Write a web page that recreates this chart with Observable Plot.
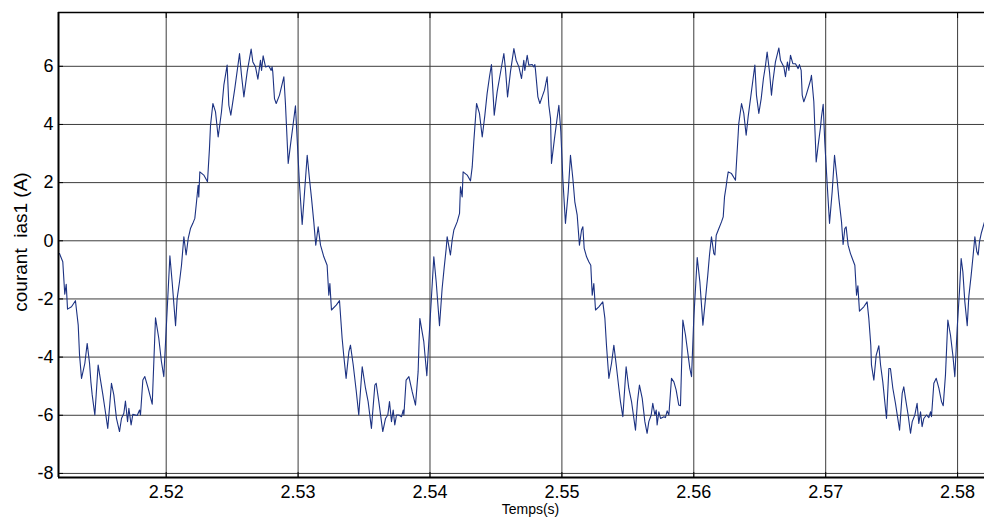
<!DOCTYPE html>
<html>
<head>
<meta charset="utf-8">
<script src="https://cdn.jsdelivr.net/npm/d3@7"></script>
<script src="https://cdn.jsdelivr.net/npm/@observablehq/plot@0.6"></script>
<style>
  html, body { margin: 0; padding: 0; background: #fff; }
  #chart svg { display: block; }
  #chart svg text { white-space: pre; }
</style>
</head>
<body>
<div id="chart"></div>
<script>
// Time (s)
const time = [
  2.51191, 2.51216, 2.51231, 2.51242, 2.51252, 2.51282, 2.51312, 2.51333, 2.51343, 2.51358,
  2.51383, 2.51401, 2.51419, 2.51429, 2.51439, 2.51459, 2.51484, 2.51502, 2.51520, 2.51535,
  2.51557, 2.51573, 2.51585, 2.51603, 2.51623, 2.51646, 2.51661, 2.51679, 2.51691, 2.51707,
  2.51717, 2.51734, 2.51747, 2.51780, 2.51798, 2.51805, 2.51823, 2.51838, 2.51863, 2.51894,
  2.51919, 2.51944, 2.51964, 2.51982, 2.52028, 2.52045, 2.52071, 2.52083, 2.52101, 2.52116,
  2.52134, 2.52151, 2.52167, 2.52184, 2.52202, 2.52217, 2.52230, 2.52242, 2.52247, 2.52255,
  2.52285, 2.52313, 2.52328,
  2.52336, 2.52354, 2.52374, 2.52394, 2.52419, 2.52437, 2.52462,
  2.52475, 2.52490, 2.52520, 2.52556, 2.52571, 2.52589, 2.52614, 2.52644, 2.52657, 2.52677,
  2.52695, 2.52715, 2.52723, 2.52735, 2.52753, 2.52778, 2.52796, 2.52803, 2.52808, 2.52821,
  2.52834, 2.52859, 2.52892, 2.52904, 2.52925, 2.52942, 2.52960, 2.52980, 2.53011, 2.53031,
  2.53049, 2.53069, 2.53086, 2.53102, 2.53119, 2.53134, 2.53152, 2.53170, 2.53195, 2.53220,
  2.53233, 2.53241, 2.53253, 2.53289, 2.53314, 2.53334, 2.53347, 2.53364, 2.53385, 2.53397,
  2.53418, 2.53440, 2.53460,
  2.53486, 2.53511, 2.53531, 2.53556, 2.53582, 2.53592, 2.53612,
  2.53642, 2.53663, 2.53680, 2.53693, 2.53708, 2.53721, 2.53733, 2.53746, 2.53764, 2.53784,
  2.53797, 2.53802, 2.53819, 2.53840, 2.53865, 2.53890, 2.53910, 2.53923, 2.53953, 2.53976,
  2.54029, 2.54047, 2.54072, 2.54092, 2.54107, 2.54123, 2.54130, 2.54155, 2.54168, 2.54181,
  2.54206, 2.54224, 2.54231, 2.54244, 2.54251, 2.54282, 2.54307, 2.54320, 2.54332, 2.54353,
  2.54375, 2.54396, 2.54416, 2.54433, 2.54451, 2.54466, 2.54487, 2.54509, 2.54529, 2.54560,
  2.54572, 2.54588, 2.54610,
  2.54636, 2.54653, 2.54674, 2.54694, 2.54711, 2.54719, 2.54737,
  2.54749, 2.54775, 2.54787, 2.54795, 2.54800, 2.54818, 2.54833, 2.54850, 2.54868, 2.54888,
  2.54901, 2.54914, 2.54921, 2.54944, 2.54962, 2.54977, 2.54992, 2.55007, 2.55027, 2.55048,
  2.55065, 2.55083, 2.55098, 2.55116, 2.55133, 2.55149, 2.55159, 2.55169, 2.55187, 2.55204,
  2.55219, 2.55230, 2.55242, 2.55255, 2.55280, 2.55310, 2.55326, 2.55338, 2.55356, 2.55376,
  2.55394, 2.55412, 2.55432, 2.55444, 2.55462, 2.55487, 2.55507, 2.55528, 2.55558, 2.55573,
  2.55588, 2.55609, 2.55629, 2.55646, 2.55659, 2.55677, 2.55689, 2.55705, 2.55715, 2.55722,
  2.55735, 2.55748,
  2.55773, 2.55785, 2.55798, 2.55811, 2.55831, 2.55849, 2.55866, 2.55886,
  2.55899, 2.55917, 2.55937, 2.55957, 2.55970, 2.55983, 2.56000, 2.56026, 2.56046, 2.56069,
  2.56089, 2.56106, 2.56119, 2.56134, 2.56152, 2.56160, 2.56170, 2.56190, 2.56210, 2.56223,
  2.56233, 2.56245, 2.56253, 2.56261, 2.56286, 2.56316, 2.56324, 2.56336, 2.56341, 2.56362,
  2.56379, 2.56397, 2.56412, 2.56430, 2.56448, 2.56463, 2.56475, 2.56493, 2.56511, 2.56528,
  2.56544, 2.56556, 2.56574, 2.56589, 2.56599, 2.56619, 2.56645, 2.56657, 2.56683, 2.56695,
  2.56710, 2.56721, 2.56733, 2.56751, 2.56771, 2.56791, 2.56801, 2.56814, 2.56822, 2.56834,
  2.56852, 2.56885,
  2.56892, 2.56910, 2.56928, 2.56943, 2.56961, 2.56968, 2.56981, 2.56993,
  2.57011, 2.57029, 2.57049, 2.57067, 2.57087, 2.57100, 2.57120, 2.57132, 2.57145, 2.57155,
  2.57170, 2.57188, 2.57206, 2.57221, 2.57234, 2.57244, 2.57256, 2.57289, 2.57314, 2.57327,
  2.57342, 2.57347, 2.57365, 2.57383, 2.57403, 2.57416, 2.57433, 2.57448, 2.57461, 2.57479,
  2.57491, 2.57509, 2.57529, 2.57560, 2.57580, 2.57592, 2.57605, 2.57625, 2.57643, 2.57656,
  2.57676, 2.57693, 2.57706, 2.57719, 2.57731, 2.57744, 2.57764, 2.57782, 2.57795, 2.57802,
  2.57820, 2.57838, 2.57858, 2.57878, 2.57891, 2.57908, 2.57926, 2.57946, 2.57964, 2.57979,
  2.57997, 2.58014, 2.58027, 2.58040, 2.58055, 2.58073, 2.58085, 2.58103, 2.58118, 2.58131,
  2.58146, 2.58156, 2.58166, 2.58179, 2.58204
];

// Current ias1 (A)
const current = [
  -0.44, -0.72, -1.84, -1.50, -2.35, -2.27, -2.06, -2.90, -3.93, -4.73,
  -4.22, -3.53, -4.22, -4.85, -5.30, -5.99, -4.27, -4.79, -5.30, -5.76,
  -6.45, -5.59, -4.90, -5.30, -6.11, -6.56, -6.11, -5.93, -5.51, -6.22,
  -5.76, -6.33, -5.97, -6.01, -5.82, -5.99, -4.79, -4.67, -5.07, -5.62,
  -2.65, -3.36, -4.16, -4.67, -0.52, -1.41, -2.92, -1.98, -1.41, -0.84,
  0.14, -0.49, 0.08, 0.42, 0.60, 0.77, 1.34, 1.91, 1.51, 2.37,
  2.26, 2.03, 3.17,
  3.97, 4.72, 4.43, 3.57, 4.43, 5.35, 6.04,
  4.66, 4.32, 5.23, 6.44, 5.69, 4.95, 5.81, 6.59, 6.15, 5.98,
  5.56, 6.21, 5.86, 6.36, 5.98, 6.01, 5.86, 5.98, 5.81, 4.89,
  4.72, 5.01, 5.64, 4.72, 2.66, 3.29, 3.92, 4.64, 1.91, 0.56,
  1.68, 2.94, 2.14, 1.45, 0.65, -0.15, 0.48, -0.15, -0.55, -0.84,
  -1.87, -1.47, -2.38, -2.21, -2.06, -3.36, -3.99, -4.73, -3.81, -3.59,
  -4.27, -5.13, -5.99,
  -4.33, -5.07, -5.53, -6.45, -4.96, -4.90, -5.53,
  -6.56, -6.11, -5.99, -5.53, -6.22, -5.82, -6.33, -5.99, -5.99, -6.05,
  -5.82, -5.99, -4.79, -4.67, -5.19, -5.65, -4.50, -2.67, -3.47, -4.64,
  -0.55, -1.41, -2.92, -1.64, -0.95, -0.26, 0.14, -0.49, 0.02, 0.37,
  0.65, 0.94, 1.86, 1.51, 2.37, 2.26, 2.06, 2.54, 3.40, 4.72,
  4.38, 3.57, 4.32, 5.06, 5.64, 6.06, 4.32, 5.12, 5.64, 6.44,
  5.92, 4.95, 5.81,
  6.61, 6.21, 5.98, 5.58, 6.21, 5.86, 6.38,
  6.04, 6.06, 5.98, 6.06, 5.86, 4.95, 4.72, 4.95, 5.18, 5.64,
  4.66, 4.20, 2.66, 3.52, 4.15, 4.66, 3.75, 2.14, 0.60, 1.68,
  2.94, 2.14, 1.34, 0.88, -0.15, 0.37, 0.48, -0.26, -0.55, -0.72,
  -0.84, -1.87, -1.47, -2.38, -2.27, -2.10, -2.67, -3.59, -4.73, -4.22,
  -3.59, -4.27, -5.07, -5.53, -6.05, -4.33, -5.07, -5.53, -6.51, -5.53,
  -4.96, -5.42, -6.22, -6.62, -6.22, -5.99, -5.59, -5.99, -5.82, -6.33,
  -5.88, -6.11,
  -6.05, -6.08, -5.85, -5.99, -4.73, -4.85, -5.13, -5.65,
  -5.67, -2.73, -3.24, -3.93, -4.39, -4.67, -2.67, -0.58, -1.41, -2.90,
  -1.98, -1.18, -0.49, 0.14, -0.44, -0.49, 0.19, 0.42, 0.65, 0.82,
  1.51, 1.86, 2.14, 2.37, 2.31, 2.08, 2.71, 3.63, 4.03, 4.72,
  4.38, 3.63, 4.26, 4.89, 5.52, 6.04, 5.01, 4.38, 4.89, 5.58,
  6.04, 6.49, 5.81, 5.01, 5.46, 6.15, 6.63, 6.21, 5.98, 5.64,
  6.15, 5.86, 6.38, 6.09, 6.09, 5.92, 6.06, 5.86, 5.01, 4.78,
  5.01, 5.52,
  5.69, 4.78, 2.71, 3.29, 3.92, 4.26, 4.69, 3.40,
  1.97, 0.60, 1.68, 2.94, 2.08, 1.45, 0.65, -0.13, 0.42, 0.48,
  -0.15, -0.44, -0.66, -0.84, -1.87, -1.55, -2.42, -2.27, -2.10, -2.67,
  -3.59, -4.27, -4.79, -3.93, -3.61, -4.27, -4.85, -5.53, -6.11, -4.39,
  -4.39, -5.07, -5.59, -6.51, -5.25, -5.02, -5.42, -5.99, -6.62, -6.22,
  -5.99, -5.59, -6.28, -5.88, -6.39, -6.11, -5.99, -6.08, -5.88, -6.05,
  -4.90, -4.73, -5.07, -5.53, -5.67, -4.62, -2.73, -3.24, -3.93, -4.67,
  -3.01, -1.75, -0.61, -1.07, -2.10, -2.92, -1.92, -1.18, -0.49, 0.14,
  -0.38, -0.49, -0.03, 0.25, 0.65
];

const xTicks = [2.52, 2.53, 2.54, 2.55, 2.56, 2.57, 2.58];
const yTicks = [-8, -6, -4, -2, 0, 2, 4, 6];
const xDomain = [2.511835, 2.58204];
const yDomain = [-8.14, 7.85];
const xLabel = "Temps(s)";
const yLabel = "courant  ias1 (A)";

const data = time.map((t, i) => ({t, v: current[i]}));

const FONT = "'Liberation Sans', Arial, Helvetica, sans-serif";

const chart = Plot.plot({
  width: 984,
  height: 522,
  marginLeft: 58,
  marginRight: 0,
  marginTop: 12,
  marginBottom: 45,
  style: {fontFamily: FONT, fontSize: "18px", color: "#000", background: "#fff", overflow: "visible"},
  x: {domain: xDomain, label: null},
  y: {domain: yDomain, label: null},
  marks: [
    Plot.gridX(xTicks, {stroke: "#3c3c3c", strokeOpacity: 1, strokeWidth: 1}),
    Plot.gridY(yTicks, {stroke: "#3c3c3c", strokeOpacity: 1, strokeWidth: 1}),
    Plot.line(data, {x: "t", y: "v", stroke: "#1c3282", strokeWidth: 1.1, clip: true}),
    Plot.ruleX([xDomain[0]], {stroke: "#000", strokeWidth: 2}),
    Plot.ruleY([yDomain[0]], {stroke: "#000", strokeWidth: 2}),
    Plot.ruleY([yDomain[1]], {stroke: "#000", strokeWidth: 1.5}),
    // inward tick marks (no text)
    Plot.axisX(xTicks, {anchor: "top", tickSize: 5, dy: 5, fill: "none", label: null, stroke: "#000"}),
    Plot.axisX(xTicks, {anchor: "bottom", tickSize: 5, dy: -5, fill: "none", label: null, stroke: "#000"}),
    Plot.axisY(yTicks, {anchor: "left", tickSize: 5, dx: 5, fill: "none", label: null, stroke: "#000"}),
    // tick labels
    Plot.axisX(xTicks, {anchor: "bottom", tickSize: 0, tickPadding: 8, tickFormat: d => d.toFixed(2), label: null, fontSize: 18}),
    Plot.axisY(yTicks, {anchor: "left", tickSize: 0, tickPadding: 5, tickFormat: d => String(d), label: null, fontSize: 18}),
    // axis titles
    Plot.text([xLabel], {frameAnchor: "bottom", text: d => d, dy: 36, dx: 9, fontSize: 14, fill: "#000"}),
    Plot.text([yLabel], {frameAnchor: "left", textAnchor: "middle", text: d => d, rotate: -90, dx: -38, dy: -3, fontSize: 19, fill: "#000"})
  ]
});

document.getElementById("chart").appendChild(chart);
</script>
</body>
</html>
